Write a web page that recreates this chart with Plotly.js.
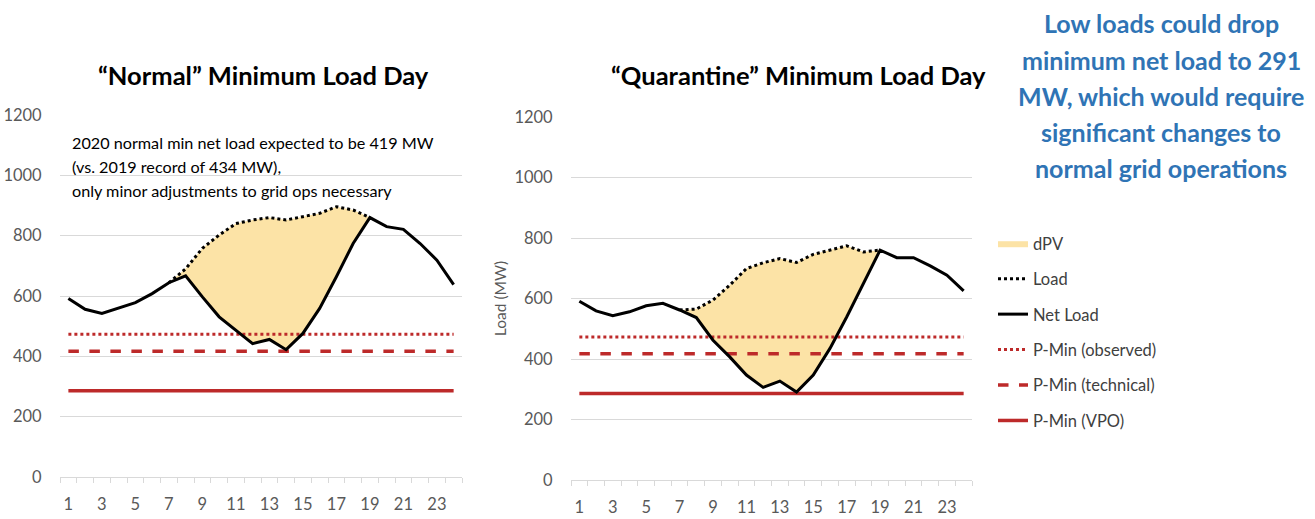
<!DOCTYPE html>
<html>
<head>
<meta charset="utf-8">
<script src="https://cdn.plot.ly/plotly-3.0.1.min.js"></script>
<style>html,body{margin:0;padding:0;background:#fff;}#chart{width:1315px;height:519px;}</style>
</head>
<body>
<div id="chart"></div>
<script>
// ---- data ----
const hours = [1,2,3,4,5,6,7,8,9,10,11,12,13,14,15,16,17,18,19,20,21,22,23,24];
const tickHours = [1,3,5,7,9,11,13,15,17,19,21,23];
const yTicks = [0,200,400,600,800,1000,1200];

// "Normal" minimum load day
const normalNetLoad = [592,556,542,559,578,608,644,667,597,531,487,442,456,422,476,559,664,774,860,830,821,774,719,638];
const normalLoad    = [null,null,null,null,null,null,644,690,758,802,840,852,860,852,863,874,896,885,860,null,null,null,null,null];

// "Quarantine" minimum load day
const quarNetLoad = [591,559,543,556,576,584,562,537,462,407,347,306,327,291,347,435,539,650,760,735,735,708,677,625];
const quarLoad    = [null,null,null,null,null,null,562,565,595,644,699,718,732,719,746,760,774,754,760,null,null,null,null,null];

// P-Min levels (MW)
const pMinObserved = 473;
const pMinTechnical = 417;
const pMinVPO = 286;

const titles = ["\u201CNormal\u201D Minimum Load Day", "\u201CQuarantine\u201D Minimum Load Day"];
const noteLines = ["2020 normal min net load expected to be 419 MW", "(vs. 2019 record of 434 MW),", "only minor adjustments to grid ops necessary"];
const calloutLines = ["Low loads could drop", "minimum net load to 291", "MW, which would require", "significant changes to", "normal grid operations"];

// ---- build ----
const FONT = "Lato, 'Open Sans', sans-serif";
const RED = "#BD2A2A";
const FILL = "#FCE3A6";

function solarRange(loadArr){
  const xs=[], i0=[];
  loadArr.forEach((v,i)=>{ if(v!==null){ xs.push(hours[i]); i0.push(i);} });
  return {xs, idx:i0};
}

function panel(net, load, xa, ya, showLegend){
  const r = solarRange(load);
  const base = r.idx.map(i=>net[i]);
  const top = r.idx.map(i=>load[i]);
  const flat = v => hours.map(()=>v);
  return [
    {x:r.xs, y:base, xaxis:xa, yaxis:ya, mode:'lines', line:{width:0,color:'rgba(0,0,0,0)'}, showlegend:false, hoverinfo:'skip'},
    {x:r.xs, y:top, xaxis:xa, yaxis:ya, mode:'lines', fill:'tonexty', fillcolor:FILL, line:{width:0,color:FILL}, name:'dPV', legendgroup:'a', legendrank:1, showlegend:showLegend},
    {x:hours, y:flat(pMinObserved), xaxis:xa, yaxis:ya, mode:'lines', line:{color:RED, width:3, dash:'dot'}, name:'P-Min (observed)', legendgroup:'d', legendrank:4, showlegend:showLegend},
    {x:hours, y:flat(pMinTechnical), xaxis:xa, yaxis:ya, mode:'lines', line:{color:RED, width:3.5, dash:'dash'}, name:'P-Min (technical)', legendgroup:'e', legendrank:5, showlegend:showLegend},
    {x:hours, y:flat(pMinVPO), xaxis:xa, yaxis:ya, mode:'lines', line:{color:RED, width:3.5}, name:'P-Min (VPO)', legendgroup:'f', legendrank:6, showlegend:showLegend},
    {x:hours, y:load, xaxis:xa, yaxis:ya, mode:'lines', line:{color:'#000', width:3, dash:'dot'}, name:'Load', legendgroup:'b', legendrank:2, showlegend:showLegend, connectgaps:false},
    {x:hours, y:net, xaxis:xa, yaxis:ya, mode:'lines', line:{color:'#000', width:3}, name:'Net Load', legendgroup:'c', legendrank:3, showlegend:showLegend}
  ];
}

const data = [].concat(
  panel(normalNetLoad, normalLoad, 'x', 'y', true),
  panel(quarNetLoad, quarLoad, 'x2', 'y2', false)
);

function xaxis(domain, anchor){
  return {domain, anchor, range:[0.5,24.5], tickvals:tickHours, ticktext:tickHours.map(String),
    showgrid:false, zeroline:false, showline:true, linecolor:'#d9d9d9', linewidth:1,
    ticks:'', ticklen:0, ticklabelstandoff:12, tickfont:{family:FONT, size:16.5, color:'#595959'},
    minor:{ticks:'outside', tick0:0.5, dtick:1, ticklen:5, tickcolor:'#d9d9d9', showgrid:false},
    fixedrange:true};
}
function yaxis(domain, anchor){
  return {domain, anchor, range:[0,1200], tickvals:yTicks, ticktext:yTicks.map(String),
    showgrid:true, gridcolor:'#d9d9d9', gridwidth:1, zeroline:false, showline:false,
    ticks:'outside', ticklen:14, tickcolor:'rgba(0,0,0,0)',
    tickfont:{family:FONT, size:16.5, color:'#595959'}, fixedrange:true};
}

const annotations = [];
annotations.push({text:'<b>'+titles[0]+'</b>', x:263/1315, y:1-75/519, xref:'paper', yref:'paper', showarrow:false, xanchor:'center', yanchor:'middle', font:{family:FONT, size:25.5, color:'#000'}});
annotations.push({text:'<b>'+titles[1]+'</b>', x:798/1315, y:1-75/519, xref:'paper', yref:'paper', showarrow:false, xanchor:'center', yanchor:'middle', font:{family:FONT, size:25.5, color:'#000'}});
const noteY = [142,166,190];
noteLines.forEach((t,i)=>annotations.push({text:t, x:70/1315, y:1-noteY[i]/519, xref:'paper', yref:'paper', showarrow:false, xanchor:'left', yanchor:'middle', font:{family:FONT, size:16.2, color:'#000'}}));
const calloutY = [23,60,96,132,168];
calloutLines.forEach((t,i)=>annotations.push({text:'<b>'+t+'</b>', x:1161/1315, y:1-calloutY[i]/519, xref:'paper', yref:'paper', showarrow:false, xanchor:'center', yanchor:'middle', font:{family:FONT, size:25, color:'#2F74B5'}}));

const layout = {
  width:1315, height:519, margin:{l:0,r:0,t:0,b:0},
  paper_bgcolor:'#fff', plot_bgcolor:'#fff',
  showlegend:true,
  xaxis: xaxis([60/1315, 462/1315], 'y'),
  yaxis: yaxis([1-477/519, 1-115/519], 'x'),
  xaxis2: xaxis([571/1315, 972/1315], 'y2'),
  yaxis2: Object.assign(yaxis([1-480/519, 1-117/519], 'x2'), {title:{text:'Load (MW)', font:{family:FONT, size:15.5, color:'#595959'}, standoff:3}}),
  legend:{x:993/1315, y:1-226/519, xanchor:'left', yanchor:'top', traceorder:'grouped', tracegroupgap:11,
    font:{family:FONT, size:16.5, color:'#404040'}, bgcolor:'rgba(0,0,0,0)', itemwidth:30},
  annotations,
  hovermode:false
};

Plotly.newPlot('chart', data, layout, {staticPlot:true, displayModeBar:false});
</script>
</body>
</html>
